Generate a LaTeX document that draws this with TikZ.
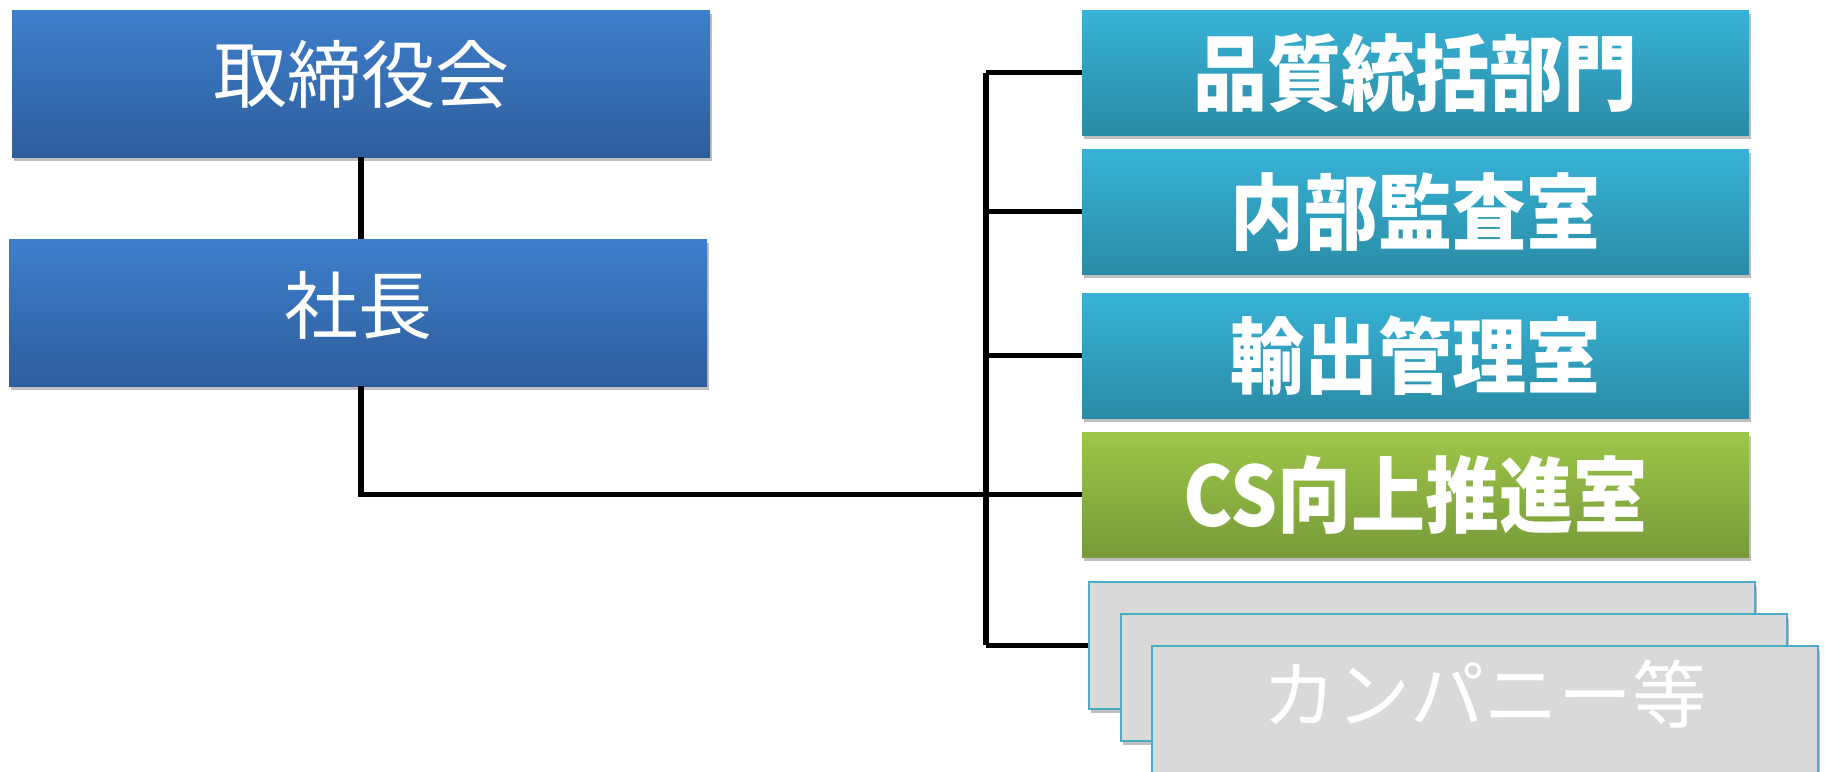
\documentclass[tikz,border=0pt]{standalone}
\usepackage{fontspec}
\newfontfamily\jp{Noto Sans CJK JP}
\usetikzlibrary{shadows}
\newcommand{\tallbold}[1]{\scalebox{1}[1.12]{#1}}
\begin{document}
\begin{tikzpicture}[x=1pt,y=-1pt,
  box/.style={rectangle, anchor=north west, inner sep=0pt, minimum width=#1, draw=none,
    drop shadow={shadow xshift=2pt, shadow yshift=-4pt, opacity=0.25, fill=black}},
  bluebox/.style={box=698pt, minimum height=147pt, top color=blue1, bottom color=blue2},
  cyanbox/.style={box=667pt, minimum height=125pt, top color=cyan1, bottom color=cyan2},
  greenbox/.style={box=667pt, minimum height=125pt, top color=green1, bottom color=green2},
  graybox/.style={rectangle, anchor=north west, inner sep=0pt, minimum width=666pt, minimum height=127pt,
    fill=grayfill, draw=grayline, line width=1.5pt,
    drop shadow={shadow xshift=2pt, shadow yshift=-4pt, opacity=0.25, fill=black}},
  lighttext/.style={text=white, font=\jp\fontsize{74}{80}\selectfont},
  boldtext/.style={text=white, font=\jp\bfseries\fontsize{74}{80}\selectfont},
  conn/.style={line width=5.5pt, black}
]
\definecolor{blue1}{HTML}{3E7FCC}
\definecolor{blue2}{HTML}{2E5D9B}
\definecolor{cyan1}{HTML}{37B3D7}
\definecolor{cyan2}{HTML}{2A8BA5}
\definecolor{green1}{HTML}{9DC648}
\definecolor{green2}{HTML}{779A3A}
\definecolor{grayfill}{HTML}{D9D9D9}
\definecolor{grayline}{HTML}{4BACC6}

\useasboundingbox (0,0) rectangle (1825,771);

% left column
\node[bluebox, label={[lighttext, yshift=9pt]center:取締役会}] (board) at (12,10) {};
\node[bluebox, label={[lighttext, yshift=7pt]center:社長}] (pres) at (9,239) {};

% right column
\node[cyanbox, label={[boldtext]center:\tallbold{品質統括部門}}] (qa) at (1082,10) {};
\node[cyanbox, label={[boldtext]center:\tallbold{内部監査室}}] (audit) at (1082,149) {};
\node[cyanbox, label={[boldtext]center:\tallbold{輸出管理室}}] (export) at (1082,293) {};
\node[greenbox, label={[boldtext]center:\tallbold{CS向上推進室}}] (cs) at (1082,432) {};

% stacked company boxes
\node[graybox] (co1) at (1088,581) {};
\node[graybox] (co2) at (1120,613) {};
\node[graybox, label={[lighttext, yshift=15pt]center:カンパニー等}] (co3) at (1151,645) {};

% connectors
\coordinate (bus) at (986,0);
\draw[conn] (board.south) -- (board.south |- pres.north);
\draw[conn] (board.south |- pres.south) |- (cs.west);
\draw[conn] (bus |- qa.west) -- (bus |- co1.west);
\draw[conn] (bus |- qa.west) -- (qa.west);
\draw[conn] (bus |- audit.west) -- (audit.west);
\draw[conn] (bus |- export.west) -- (export.west);
\draw[conn] (bus |- co1.west) -- (co1.west);
\end{tikzpicture}
\end{document}
